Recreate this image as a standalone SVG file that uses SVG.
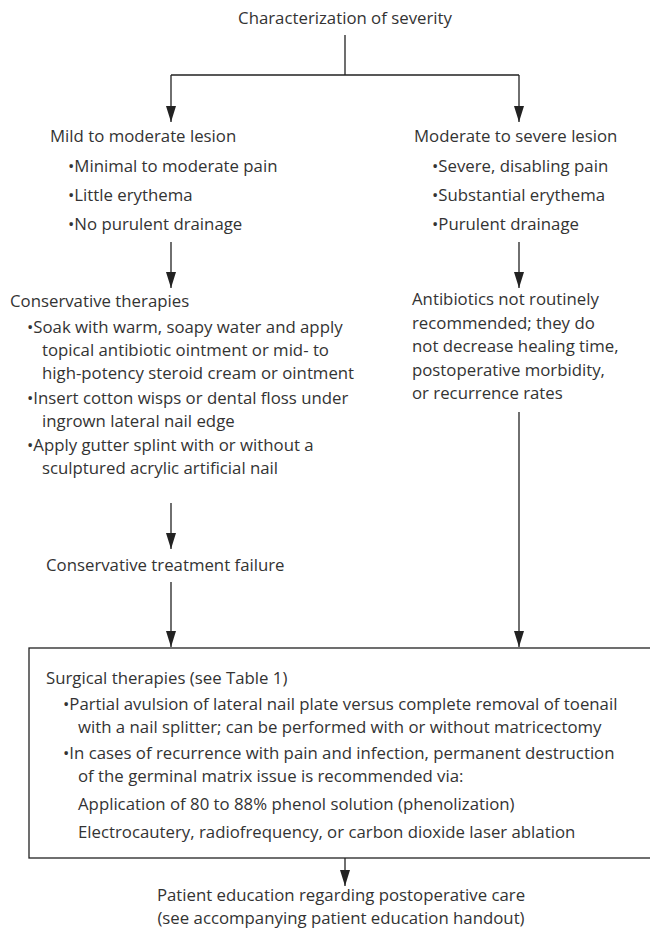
<svg xmlns="http://www.w3.org/2000/svg" width="650" height="935" viewBox="0 0 650 935">
<style>
text{font-family:"Open Sans","Noto Sans","Liberation Sans",sans-serif;font-size:16.8px;fill:#333}
.c{text-anchor:middle}
.ln{stroke:#222;stroke-width:1.3;fill:none}
</style>
<defs>
<marker id="a" markerUnits="userSpaceOnUse" markerWidth="17" markerHeight="11" refX="16" refY="5" orient="auto">
<path d="M0,0 L16,5 L0,10 Z" fill="#222"/>
</marker>
</defs>
<rect width="650" height="935" fill="#fff"/>
<g id="connectors">
<path class="ln" d="M345,35 V75 M171,75 H519"/>
<path class="ln" d="M171,75 V122" marker-end="url(#a)"/>
<path class="ln" d="M519,75 V122" marker-end="url(#a)"/>
<path class="ln" d="M171,242 V288" marker-end="url(#a)"/>
<path class="ln" d="M519,242 V288" marker-end="url(#a)"/>
<path class="ln" d="M171,503 V549" marker-end="url(#a)"/>
<path class="ln" d="M171,582 V647" marker-end="url(#a)"/>
<path class="ln" d="M519,412 V647" marker-end="url(#a)"/>
<path class="ln" d="M345,858 V886" marker-end="url(#a)"/>
</g>
<g id="severity"><text class="c" x="345" y="24">Characterization of severity</text></g>
<g id="mild">
<text x="50" y="142">Mild to moderate lesion</text>
<text x="68" y="172">•Minimal to moderate pain</text>
<text x="68" y="201">•Little erythema</text>
<text x="68" y="230">•No purulent drainage</text>
</g>
<g id="severe">
<text x="414" y="142">Moderate to severe lesion</text>
<text x="432" y="172">•Severe, disabling pain</text>
<text x="432" y="201">•Substantial erythema</text>
<text x="432" y="230">•Purulent drainage</text>
</g>
<g id="conservative">
<text x="10" y="307">Conservative therapies</text>
<text x="27" y="333">•Soak with warm, soapy water and apply</text>
<text x="42" y="356">topical antibiotic ointment or mid- to</text>
<text x="42" y="379">high-potency steroid cream or ointment</text>
<text x="27" y="404">•Insert cotton wisps or dental floss under</text>
<text x="42" y="427">ingrown lateral nail edge</text>
<text x="27" y="451">•Apply gutter splint with or without a</text>
<text x="42" y="474">sculptured acrylic artificial nail</text>
</g>
<g id="antibiotics">
<text x="412" y="305">Antibiotics not routinely</text>
<text x="412" y="329">recommended; they do</text>
<text x="412" y="352">not decrease healing time,</text>
<text x="412" y="376">postoperative morbidity,</text>
<text x="412" y="399">or recurrence rates</text>
</g>
<g id="failure"><text x="46" y="571">Conservative treatment failure</text></g>
<g id="surgical">
<rect class="ln" x="29" y="648" width="625" height="210"/>
<text x="46" y="684">Surgical therapies (see Table 1)</text>
<text x="63" y="710">•Partial avulsion of lateral nail plate versus complete removal of toenail</text>
<text x="78" y="733">with a nail splitter; can be performed with or without matricectomy</text>
<text x="63" y="759">•In cases of recurrence with pain and infection, permanent destruction</text>
<text x="78" y="782">of the germinal matrix issue is recommended via:</text>
<text x="78" y="810">Application of 80 to 88% phenol solution (phenolization)</text>
<text x="78" y="838">Electrocautery, radiofrequency, or carbon dioxide laser ablation</text>
</g>
<g id="education">
<text class="c" x="341" y="901">Patient education regarding postoperative care</text>
<text class="c" x="341" y="924">(see accompanying patient education handout)</text>
</g>
</svg>
